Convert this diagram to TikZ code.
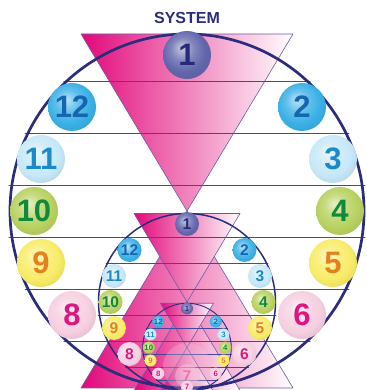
\documentclass[tikz,border=0pt]{standalone}
\usepackage{fontspec}
\setmainfont{Liberation Sans}
\definecolor{navy}{HTML}{2B2C7C}
\definecolor{rule}{HTML}{4A4596}
\definecolor{edge}{HTML}{6D5BAA}
\definecolor{rosa}{HTML}{E2087A}
\definecolor{bcol}{HTML}{FFFFFF}
% ball body / digit colours
\definecolor{ba}{HTML}{6267AC}\definecolor{ta}{HTML}{272A78}
\definecolor{bb}{HTML}{3AB0E6}\definecolor{tb}{HTML}{1565B0}
\definecolor{bc}{HTML}{C6E8F8}\definecolor{tc}{HTML}{1A8ACB}
\definecolor{bd}{HTML}{B8D160}\definecolor{td}{HTML}{0F8A3A}
\definecolor{be}{HTML}{F8EC66}\definecolor{te}{HTML}{E5801C}
\definecolor{bf}{HTML}{F6CFE1}\definecolor{tf}{HTML}{DE1580}
\pgfdeclareradialshading[bcol]{softball}{\pgfpoint{-6bp}{8bp}}{%
  color(0bp)=(bcol!35!white); color(12bp)=(bcol!80!white);
  color(22bp)=(bcol); color(31bp)=(bcol!92!black); color(50bp)=(bcol!92!black)}
\tikzset{
  ball/.style={circle, inner sep=0pt, shade, shading=softball,
    /utils/exec={\colorlet{bcol}{#1}}},
  tri/.style={draw=edge, line width=.6pt, left color=rosa, right color=white},
  chord/.style={draw=rule, line width=.8pt},
  rim/.style={draw=navy}
}
\begin{document}
\begin{tikzpicture}[x=1pt, y=1pt, line join=round, line cap=round]
\clip (0,0) rectangle (366,390);
% pink triangles of the three levels
\foreach \cy/\s in {179/1, 88/0.5, 42.5/0.25}{
  \path[tri] (187-106*\s,\cy+177*\s) -- ++(212*\s,0) -- (187,\cy) -- cycle;
  \path[tri] (187,\cy) -- (187-106*\s,\cy-177*\s) -- ++(212*\s,0) -- cycle;
}
% chords and circles
\foreach \cy/\s in {179/1, 88/0.5, 42.5/0.25}{
  \foreach \k in {-2.5,-1.5,-0.5,0.5,1.5,2.5}{
    \pgfmathsetmacro\h{52*\k*\s}
    \pgfmathsetmacro\w{177*\s*sqrt(1-(\k*52/177)^2)+3*\s}
    \draw[chord] (187-\w,\cy+\h) -- (187+\w,\cy+\h);
  }
  \pgfmathsetmacro\lw{2.4*\s+.3}
  \draw[rim, line width=\lw pt] (187,\cy) circle[radius=177*\s];
}
% numbered balls
\foreach \cy/\s/\l in {179/1/a, 88/0.5/b, 42.5/0.25/c}{
  \pgfmathsetmacro\fs{31*\s}
  \pgfmathsetmacro\d{48*\s}
  \foreach \n/\dx/\k/\c in {1/0/3/a, 2/115/2/b, 3/146/1/c, 4/153/0/d, 5/146/-1/e, 6/115/-2/f,
                            8/-115/-2/f, 9/-146/-1/e, 10/-153/0/d, 11/-146/1/c, 12/-115/2/b}
    \node[ball=b\c, minimum size=\d pt, text=t\c,
          font=\bfseries\fontsize{\fs}{\fs}\selectfont]
      (\l\n) at (187+\dx*\s,\cy+52*\k*\s) {\n};
}
% faint lowest balls
\node[ball=bf, minimum size=48pt, opacity=.25] (a7) at (187,23) {};
\node[ball=bf, minimum size=24pt, text=tf, opacity=.4,
      font=\bfseries\fontsize{15.5}{15.5}\selectfont] (b7) at (187,14) {7};
\node[ball=bf, minimum size=12pt, text=tf,
      font=\bfseries\fontsize{7.75}{7.75}\selectfont] (c7) at (187,3.5) {7};
\node[font=\bfseries\fontsize{16}{16}\selectfont, text=navy] (title) at (187,372) {SYSTEM};
\end{tikzpicture}
\end{document}
